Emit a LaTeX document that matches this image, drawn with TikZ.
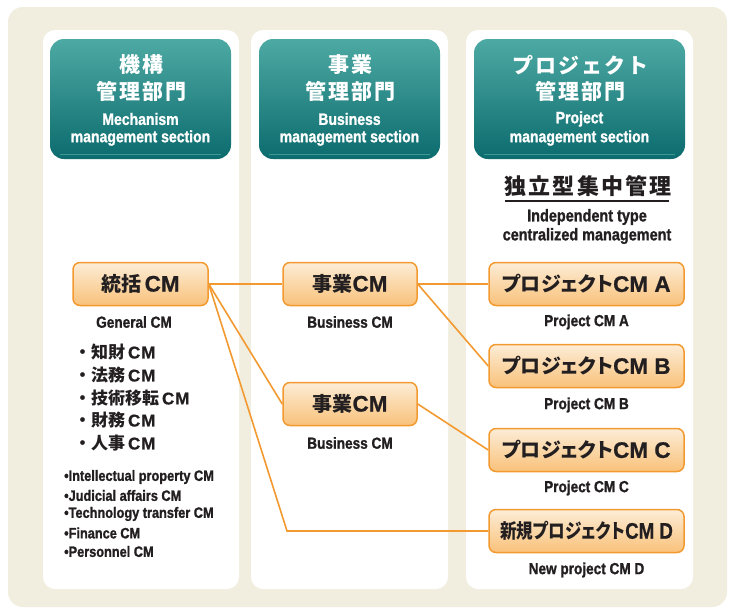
\documentclass[tikz,border=0pt]{standalone}
\usepackage{fontspec}
\setmainfont{Liberation Sans}
\newfontfamily\jp[RawFeature=+palt]{Noto Sans CJK JP}
\newfontfamily\jpf{Noto Sans CJK JP}
\newfontfamily\jph[LetterSpace=10]{Noto Sans CJK JP}
\newfontfamily\lsb[BoldFeatures={FakeBold=0.8}]{Liberation Sans}
\newfontfamily\lsbw[LetterSpace=6, BoldFeatures={FakeBold=0.8}]{Liberation Sans}
\newfontfamily\cond[FakeStretch=0.85, BoldFeatures={FakeBold=1.2}]{Liberation Sans}
\newcommand\cmt[1]{{\lsb\bfseries\fontsize{22.5}{22.5}\selectfont #1}}
\newcommand\cml[1]{{\lsbw\bfseries\fontsize{17}{17}\selectfont #1}}
\definecolor{bgbeige}{HTML}{F1EDDF}
\definecolor{orln}{HTML}{F29A30}
\definecolor{ortop}{HTML}{FCEDD6}
\definecolor{orbot}{HTML}{F9C17A}
\definecolor{tltop}{HTML}{4DA9A3}
\definecolor{tlbot}{HTML}{0C6B6E}
\definecolor{tlline}{HTML}{3E9A97}
\definecolor{txt}{HTML}{231F20}
\tikzset{
  colbox/.style={fill=white, rounded corners=12pt},
  headbox/.style={rounded corners=14pt, top color=tltop, bottom color=tlbot, minimum height=120pt, inner sep=0pt},
  headjp/.style={text=white, font=\jph\bfseries\fontsize{21}{22}\selectfont, inner sep=0pt},
  headen/.style={text=white, font=\cond\bfseries\fontsize{16.5}{18}\selectfont, inner sep=0pt},
  cmbox/.style={draw=orln, line width=1.5pt, rounded corners=7pt, top color=ortop, bottom color=orbot,
    minimum height=43pt, inner sep=0pt, text=txt, font=\jp\bfseries\fontsize{20}{20}\selectfont},
  sublabel/.style={text=txt, font=\cond\bfseries\fontsize{16}{17}\selectfont, inner sep=0pt},
  jplist/.style={text=txt, font=\jpf\bfseries\fontsize{17}{17}\selectfont, inner sep=0pt, anchor=west},
  enlist/.style={text=txt, font=\cond\bfseries\fontsize{15}{15}\selectfont, inner sep=0pt, anchor=west},
  conn/.style={draw=orln, line width=1.6pt}
}
\begin{document}
\begin{tikzpicture}[x=1pt,y=-1pt]
\useasboundingbox (0,0) rectangle (734,608);
\fill[white] (0,0) rectangle (734,608);
\fill[bgbeige, rounded corners=15pt] (8,7) rectangle (727,607);
% columns
\fill[colbox] (43,30) rectangle (239,589);
\fill[colbox] (251,30) rectangle (448,589);
\fill[colbox] (466,30) rectangle (693,589);
% headers
\node[headbox, minimum width=181pt] (h1) at (140.5,99) {};
\node[headbox, minimum width=181pt] (h2) at (349.5,99) {};
\node[headbox, minimum width=211pt] (h3) at (579.5,99) {};
\draw[tlline, line width=0.8pt] (h1.south west) ++(10,-5) -- ++(161,0);
\draw[tlline, line width=0.8pt] (h2.south west) ++(10,-5) -- ++(161,0);
\draw[tlline, line width=0.8pt] (h3.south west) ++(10,-5) -- ++(191,0);
\node[headjp] (h1a) at (141.5,65) {機構};
\node[headjp] (h1b) at (141.5,91) {管理部門};
\node[headen] (h1c) at (140.5,119) {Mechanism};
\node[headen] (h1d) at (140.5,138) {management section};
\node[headjp] (h2a) at (350.5,65) {事業};
\node[headjp] (h2b) at (350.5,91) {管理部門};
\node[headen] (h2c) at (349.5,119) {Business};
\node[headen] (h2d) at (349.5,138) {management section};
\node[headjp] (h3a) at (580.5,65) {プロジェクト};
\node[headjp] (h3b) at (580.5,91) {管理部門};
\node[headen] (h3c) at (579.5,119) {Project};
\node[headen] (h3d) at (579.5,138) {management section};
% independent type
\node[text=txt, font=\jph\bfseries\fontsize{22}{22}\selectfont, inner sep=0pt] (ind) at (588,186) {独立型集中管理};
\draw[txt, line width=2pt] (505,201) -- (669,201);
\node[sublabel, font=\cond\bfseries\fontsize{17}{17}\selectfont] (ind1) at (587,217) {Independent type};
\node[sublabel, font=\cond\bfseries\fontsize{17}{17}\selectfont] (ind2) at (587,236) {centralized management};
% boxes
\coordinate (bend) at (287,531);
\node[cmbox, minimum width=135pt] (gen) at (140.5,284) {統括\,\cmt{CM}};
\node[cmbox, minimum width=134pt] (biz1) at (350,284) {事業\cmt{CM}};
\node[cmbox, minimum width=134pt] (biz2) at (350,404) {事業\cmt{CM}};
\node[cmbox, minimum width=195pt] (pA) at (586.5,284) {プロジェクト\cmt{CM A}};
\node[cmbox, minimum width=195pt] (pB) at (586.5,366) {プロジェクト\cmt{CM B}};
\node[cmbox, minimum width=195pt] (pC) at (586.5,450) {プロジェクト\cmt{CM C}};
\node[cmbox, minimum width=195pt] (pD) at (586.5,531) {\scalebox{0.83}[1]{新規プロジェクト\cmt{CM D}}};
% connectors
\draw[conn] (gen.east) -- (biz1.west);
\draw[conn] (gen.east) -- (biz2.west);
\draw[conn] (gen.east) -- (bend) -- (pD.west);
\draw[conn] (biz1.east) -- (pA.west);
\draw[conn] (biz1.east) -- (pB.west);
\draw[conn] (biz2.east) -- (pC.west);
% sub labels
\node[sublabel] (genl) at (134,322) {General CM};
\node[sublabel] (biz1l) at (350,322) {Business CM};
\node[sublabel] (biz2l) at (350,443) {Business CM};
\node[sublabel] (pAl) at (586.5,322) {Project CM A};
\node[sublabel] (pBl) at (586.5,405) {Project CM B};
\node[sublabel] (pCl) at (586.5,488) {Project CM C};
\node[sublabel] (pDl) at (586.5,570) {New project CM D};
% lists
\node[jplist] (j1) at (74,352) {・知財\,\cml{CM}};
\node[jplist] (j2) at (74,375) {・法務\,\cml{CM}};
\node[jplist] (j3) at (74,398) {・技術移転\,\cml{CM}};
\node[jplist] (j4) at (74,420) {・財務\,\cml{CM}};
\node[jplist] (j5) at (74,443) {・人事\,\cml{CM}};
\node[enlist] (e1) at (64,477) {•Intellectual property CM};
\node[enlist] (e2) at (64,495.5) {•Judicial affairs CM};
\node[enlist] (e3) at (64,514) {•Technology transfer CM};
\node[enlist] (e4) at (64,533) {•Finance CM};
\node[enlist] (e5) at (64,551.5) {•Personnel CM};
\end{tikzpicture}
\end{document}
